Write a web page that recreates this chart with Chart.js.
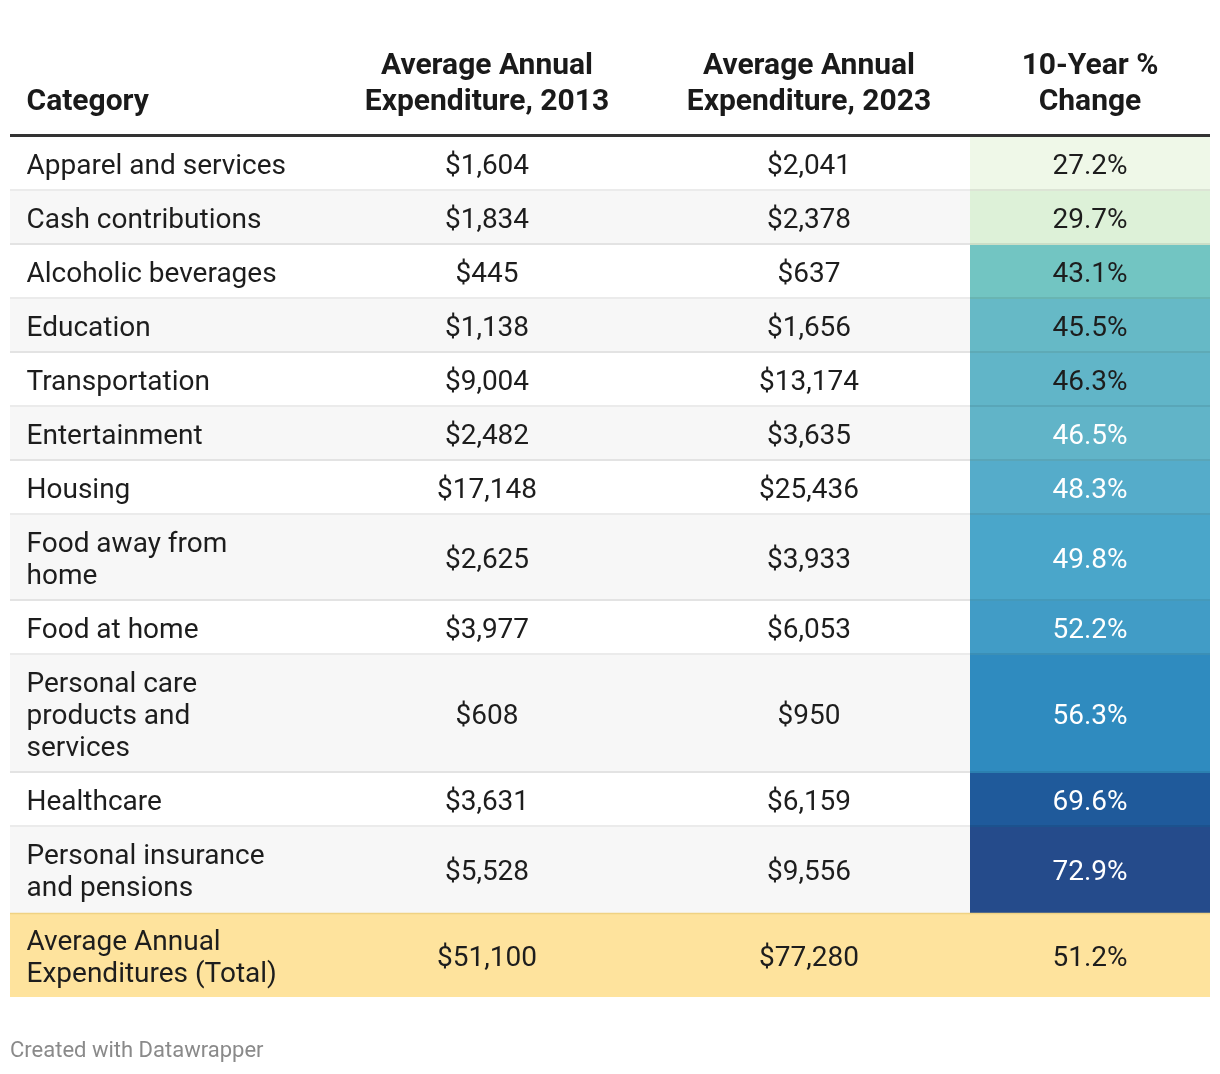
<!DOCTYPE html>
<html>
<head>
<meta charset="utf-8">
<script src="https://cdn.jsdelivr.net/npm/chart.js@4.4.1/dist/chart.umd.min.js"></script>
<style>
  html, body { margin: 0; padding: 0; background: #fff; }
  #wrap { position: relative; width: 1220px; height: 1074px; }
</style>
</head>
<body>
<div id="wrap"><canvas id="table"></canvas></div>
<script>
// ---- data ----
const headers = ["Category", "Average Annual\nExpenditure, 2013", "Average Annual\nExpenditure, 2023", "10-Year %\nChange"];
const categories = [
  "Apparel and services",
  "Cash contributions",
  "Alcoholic beverages",
  "Education",
  "Transportation",
  "Entertainment",
  "Housing",
  "Food away from\nhome",
  "Food at home",
  "Personal care\nproducts and\nservices",
  "Healthcare",
  "Personal insurance\nand pensions"
];
const spend2013 = [1604, 1834, 445, 1138, 9004, 2482, 17148, 2625, 3977, 608, 3631, 5528];
const spend2023 = [2041, 2378, 637, 1656, 13174, 3635, 25436, 3933, 6053, 950, 6159, 9556];
const pctChange = [27.2, 29.7, 43.1, 45.5, 46.3, 46.5, 48.3, 49.8, 52.2, 56.3, 69.6, 72.9];
const totalLabel = "Average Annual\nExpenditures (Total)";
const total2013 = 51100;
const total2023 = 77280;
const totalChange = 51.2;
const footer = "Created with Datawrapper";

// ---- styles ----
const changeFills = ["#eff8e8", "#ddf1d8", "#72c5c2", "#66b9c6", "#61b5c8", "#61b4c8",
                     "#55acca", "#4aa6ca", "#419cc6", "#2f8bbf", "#1f5a9b", "#254b8b"];
const whiteTextFrom = 46.5;
const FONT = "Roboto, 'Noto Sans', sans-serif";
const colEdges = [0, 316, 638, 960, 1200];   // x units of the table
const textIndent = 16.5;
const tableTop = 137;
const lineH = 32;
const headLineH = 36;

// row layout from number of text lines
const rows = categories.map((c, i) => ({
  label: c, a: spend2013[i], b: spend2023[i], pct: pctChange[i], lines: c.split("\n").length
}));
let y = tableTop;
rows.forEach(r => { r.top = y; r.bottom = y + 22 + lineH * r.lines; y = r.bottom; });
const totalRow = { label: totalLabel, a: total2013, b: total2023, pct: totalChange, top: y, bottom: y + 84, lines: 2 };

const money = v => "$" + v.toLocaleString("en-US");

function rect(x0, x1, top, bottom, color, order) {
  return {
    data: [{ x: x0, y: top }, { x: x1, y: top }],
    fill: { value: bottom },
    backgroundColor: color,
    borderColor: "rgba(0,0,0,0)",
    borderWidth: 0,
    pointRadius: 0,
    order: order
  };
}
function rule(x0, x1, yv, color, width, order) {
  return {
    data: [{ x: x0, y: yv }, { x: x1, y: yv }],
    fill: false,
    borderColor: color,
    borderWidth: width,
    pointRadius: 0,
    order: order
  };
}

const datasets = [];
rows.forEach((r, i) => {
  datasets.push(rect(colEdges[0], colEdges[3], r.top, r.bottom, i % 2 ? "#f7f7f7" : "#ffffff", 5));
  datasets.push(rect(colEdges[3], colEdges[4], r.top, r.bottom, changeFills[i], 4));
  if (i < rows.length - 1) datasets.push(rule(colEdges[0], colEdges[4], r.bottom - 1, "rgba(0,0,0,0.08)", 2, 2));
});
datasets.push(rect(colEdges[0], colEdges[4], totalRow.top, totalRow.bottom, "#fee39d", 4));
datasets.push(rule(colEdges[0], colEdges[4], totalRow.top + 0.5, "#f0d283", 1.5, 2));
datasets.push(rule(colEdges[0], colEdges[4], tableTop - 1.5, "#333333", 3, 1));

const tableText = {
  id: "tableText",
  afterDatasetsDraw(chart) {
    const ctx = chart.ctx;
    const xs = chart.scales.x, ys = chart.scales.y;
    const colX = [xs.getPixelForValue(colEdges[0] + textIndent)];
    for (let c = 1; c < 4; c++) colX.push(xs.getPixelForValue((colEdges[c] + colEdges[c + 1]) / 2));

    function lines(text, x, cy, align, lh) {
      const parts = String(text).split("\n");
      ctx.textAlign = align;
      parts.forEach((p, k) => ctx.fillText(p, x, cy + (k - (parts.length - 1) / 2) * lh));
    }
    ctx.save();
    ctx.textBaseline = "middle";

    // header, bottom aligned
    ctx.font = "bold 30px " + FONT;
    ctx.fillStyle = "#1a1a1a";
    headers.forEach((h, c) => {
      const n = h.split("\n").length;
      const cy = ys.getPixelForValue(102 - (n - 1) * headLineH / 2);
      lines(h, colX[c], cy, c === 0 ? "left" : "center", headLineH);
    });

    ctx.font = "28px " + FONT;
    rows.concat([totalRow]).forEach((r, i) => {
      const isTotal = i === rows.length;
      const cy = ys.getPixelForValue((r.top + r.bottom) / 2 + (isTotal ? 4 : 3));
      ctx.fillStyle = "#1d1d1d";
      lines(r.label, colX[0], cy, "left", lineH);
      lines(money(r.a), colX[1], cy, "center", lineH);
      lines(money(r.b), colX[2], cy, "center", lineH);
      ctx.fillStyle = !isTotal && r.pct >= whiteTextFrom ? "#ffffff" : "#1d1d1d";
      lines(r.pct.toFixed(1) + "%", colX[3], cy, "center", lineH);
    });

    ctx.font = "22px " + FONT;
    ctx.fillStyle = "#8a8a8a";
    ctx.textAlign = "left";
    ctx.fillText(footer, xs.getPixelForValue(0), ys.getPixelForValue(1051));
    ctx.restore();
  }
};

new Chart(document.getElementById("table"), {
  type: "line",
  data: { datasets: datasets },
  options: {
    responsive: true,
    maintainAspectRatio: false,
    animation: false,
    events: [],
    layout: { padding: { left: 10, right: 10, top: 0, bottom: 0 } },
    plugins: { legend: { display: false }, tooltip: { enabled: false } },
    scales: {
      x: { type: "linear", min: 0, max: 1200, display: false },
      y: { type: "linear", min: 0, max: 1074, reverse: true, display: false }
    }
  },
  plugins: [tableText]
});
</script>
</body>
</html>
